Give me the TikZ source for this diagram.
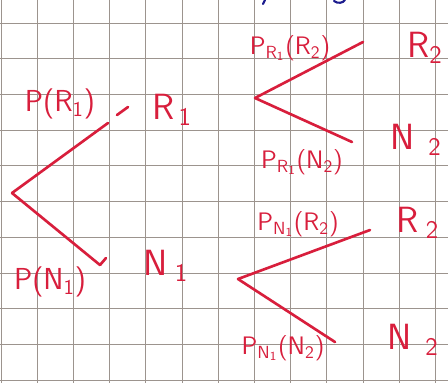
\documentclass[tikz,border=0pt]{standalone}
\usepackage{amsmath}
\usepackage{tikz}
\usetikzlibrary{positioning}
\usepackage{xcolor}
\definecolor{pen}{HTML}{D81E3C}
\definecolor{ink}{HTML}{1C1C8E}
\definecolor{sq}{HTML}{9C948E}

\begin{document}
\begin{tikzpicture}[x=0.02cm,y=-0.02cm,
  branch/.style={pen,line width=1.5pt,line cap=round},
  lbl/.style={pen,font=\LARGE\sffamily,inner sep=1pt},
  sublbl/.style={pen,font=\Large\sffamily,inner sep=1pt},
  leaf/.style={pen,font=\huge\sffamily,inner sep=1pt}]
  \fill[white] (0,0) rectangle (448,383);
  \useasboundingbox (0,0) rectangle (448,383);
  % squared paper
  \foreach \i in {0,...,12}
    \draw[sq,line width=0.45pt] ({1+36.2*\i},0) -- ({1+36.2*\i},383);
  \foreach \j in {0,...,10}
    \draw[sq,line width=0.45pt] (0,{23+35.7*\j}) -- (448,{23+35.7*\j});
  % bits of blue ink cut off at the top
  \draw[ink,line width=1.2pt,line cap=round] (263,4) -- (265,0);
  \draw[ink,line width=1.2pt,line cap=round] (334,1) .. controls (338,4) and (343,3) .. (345,0);

  % first stage
  \coordinate (r0) at (12,193);
  \coordinate (a1) at (108,123);
  \coordinate (b1) at (100,265);
  \draw[branch] (r0) -- (a1);
  \draw[branch] (r0) -- (b1);
  \draw[branch] (117,115) -- (128,107);
  \draw[branch] (b1) -- (106,258);
  \node[lbl] (pR1) at (60,104) {P(R$_{\mathsf{1}}$)};
  \node[lbl] (pN1) at (50,282) {P(N$_{\mathsf{1}}$)};
  \node[leaf] (R1) at (172,110) {R$_{\,\mathsf{1}}$};
  \node[leaf] (N1) at (166,266) {N$_{\;\mathsf{1}}$};

  % second stage after R1
  \coordinate (r1) at (255,98);
  \coordinate (a2) at (363,42);
  \coordinate (b2) at (352,142);
  \draw[branch] (r1) -- (a2);
  \draw[branch] (r1) -- (b2);
  \node[sublbl] (pRR) at (290,48) {P$_{\mathsf{R_1}}$(R$_{\mathsf{2}}$)};
  \node[sublbl] (pRN) at (302,162) {P$_{\mathsf{R_1}}$(N$_{\mathsf{2}}$)};
  \node[leaf] (R2a) at (425,48) {R$_{\mathsf{2}}$};
  \node[leaf] (N2a) at (416,140) {N$_{\;\;\mathsf{2}}$};

  % second stage after N1
  \coordinate (r2) at (238,279);
  \coordinate (a3) at (370,230);
  \coordinate (b3) at (335,342);
  \draw[branch] (r2) -- (a3);
  \draw[branch] (r2) -- (b3);
  \node[sublbl] (pNR) at (298,224) {P$_{\mathsf{N_1}}$(R$_{\mathsf{2}}$)};
  \node[sublbl] (pNN) at (283,348) {P$_{\mathsf{N_1}}$(N$_{\mathsf{2}}$)};
  \node[leaf] (R2b) at (418,223) {R$_{\;\mathsf{2}}$};
  \node[leaf] (N2b) at (413,340) {N$_{\;\;\mathsf{2}}$};
\end{tikzpicture}
\end{document}
